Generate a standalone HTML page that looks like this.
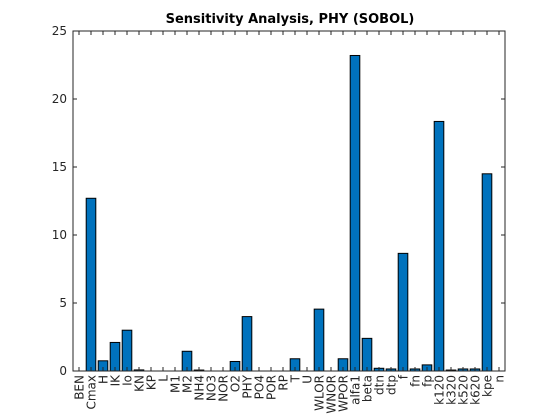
<!DOCTYPE html>
<html><head><meta charset="utf-8"><style>
body{margin:0;background:#fff;}
svg{display:block;font-family:"DejaVu Sans","Liberation Sans",sans-serif;}
</style></head><body>
<svg id="chart" width="560" height="420"></svg>
<script>
const categories=["BEN","Cmax","H","IK","Io","KN","KP","L","M1","M2","NH4","NO3","NOR","O2","PHY","PO4","POR","RP","T","U","WLOR","WNOR","WPOR","alfa1","beta","dtn","dtp","f","fn","fp","k120","k320","k520","k620","kpe","n"];
const values=[0,12.7,0.75,2.1,3.0,0.08,0,0,0,1.45,0.07,0,0,0.7,4.0,0,0,0,0.9,0,4.55,0,0.9,23.2,2.4,0.2,0.15,8.65,0.15,0.45,18.35,0.07,0.15,0.15,14.5,0];
const yTicks=[0,5,10,15,20,25];
const L=73,R=505,T=31,B=371,yMax=25;
const svg=document.getElementById('chart');
const NS='http://www.w3.org/2000/svg';
const step=(R-L)/categories.length;
const xs=i=>L+step*(i+0.5);
const ys=v=>B-(v/yMax)*(B-T);
function mk(tag,attrs,parent){const e=document.createElementNS(NS,tag);for(const k in attrs)e.setAttribute(k,attrs[k]);(parent||svg).appendChild(e);return e;}
const title=mk('text',{x:(L+R)/2+1,y:23,'text-anchor':'middle','font-size':'13','font-weight':'bold',fill:'#000'});
title.textContent='Sensitivity Analysis, PHY (SOBOL)';


const bars=mk('g',{});


const bw=step*0.8;
values.forEach((v,i)=>{
  const y=ys(v);
  const r=mk('rect',{x:xs(i)-bw/2,y:y,width:bw,height:Math.max(B-y,0),fill:'#0072BD',stroke:'#000','stroke-width':'1'},bars);
  
  
});
const ax=mk('g',{stroke:'#262626','stroke-width':'1',fill:'none'});


mk('rect',{x:L,y:T,width:R-L,height:B-T},ax);
categories.forEach((c,i)=>{
  const x=xs(i);
  mk('line',{x1:x,x2:x,y1:B,y2:B-4},ax);
  mk('line',{x1:x,x2:x,y1:T,y2:T+4},ax);
  const t=mk('text',{x:0,y:0,transform:`translate(${x+4.5},${B+4}) rotate(-90)`,'text-anchor':'end','font-size':'12',fill:'#262626'});
  t.textContent=c;
  
  
});
yTicks.forEach(v=>{
  const y=ys(v);
  mk('line',{x1:L,x2:L+4,y1:y,y2:y},ax);
  mk('line',{x1:R,x2:R-4,y1:y,y2:y},ax);
  const t=mk('text',{x:L-6,y:y+4,'text-anchor':'end','font-size':'12',fill:'#262626'});
  t.textContent=v;
  
  
});
</script>
</body></html>
